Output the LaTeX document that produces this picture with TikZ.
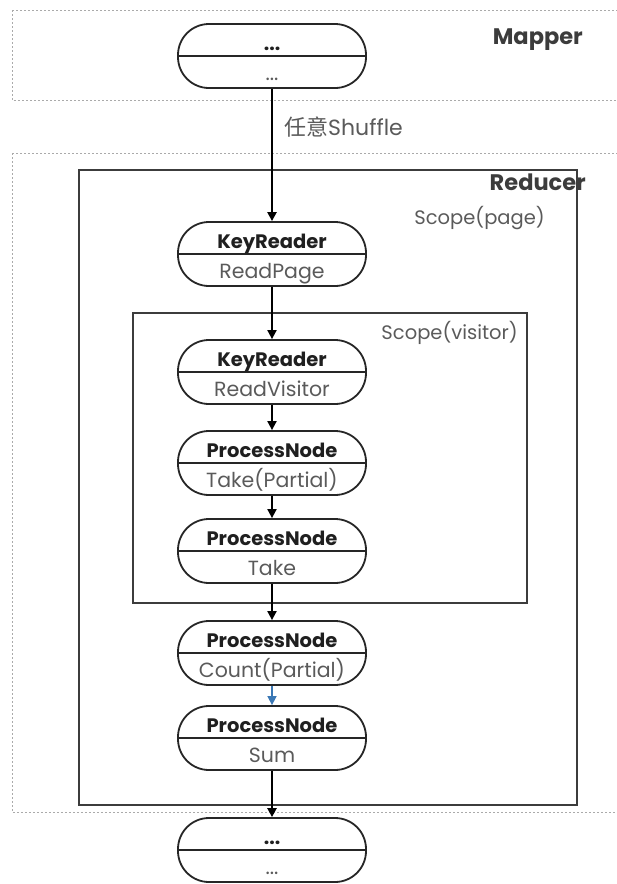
\documentclass[tikz,border=0pt]{standalone}
\usepackage{fontspec}
\setmainfont{Poppins}
\newfontfamily\cjk{Noto Sans CJK SC}
\usetikzlibrary{arrows.meta}

\definecolor{framegray}{HTML}{3C3C3C}
\definecolor{softgray}{HTML}{5A5A5A}
\definecolor{dashgray}{HTML}{AAAAAA}
\definecolor{flowblue}{HTML}{3B78B5}

\tikzset{
  stagebox/.style={draw=black!85, line width=1.8pt, rounded corners=31pt,
    minimum width=188pt, minimum height=64pt, inner sep=0pt},
  headtext/.style={font=\fontsize{19.5}{22}\selectfont\bfseries, text=black!88, inner sep=0pt, anchor=base},
  bodytext/.style={font=\fontsize{20.5}{22}\selectfont, text=softgray, inner sep=0pt, anchor=base},
  flow/.style={draw=black, line width=1.9pt, -{Triangle[length=9pt,width=9pt]}},
  heavyflow/.style={flow, line width=2.5pt},
  zonebox/.style={draw=dashgray, line width=1pt, dash pattern=on 2pt off 2pt},
  scopebox/.style={draw=framegray, line width=1.9pt},
  zonetitle/.style={font=\fontsize{22.5}{24}\selectfont\bfseries, text=framegray, inner sep=0pt},
  scopetitle/.style={font=\fontsize{19.5}{22}\selectfont, text=softgray, inner sep=0pt},
}

% one operator: rounded box split in two, bold kind on top, name below
\newcommand\stagenode[4]{%
  \node[stagebox] (#1) at (272,#2) {};
  \draw[line width=1.8pt, draw=black!85] (#1.west) -- (#1.east);
  \node[headtext] (#1-head) at ([yshift=6pt]#1.center) {#3};
  \node[bodytext] (#1-body) at ([yshift=-24pt]#1.center) {#4};
}

\begin{document}
\begin{tikzpicture}[x=1pt, y=-1pt]
  \useasboundingbox (0,0) rectangle (617,884);
  \clip (0,0) rectangle (617,884);

  % dashed zones
  \draw[zonebox] (12,10) -- (640,10) (12,10) -- (12,100) -- (640,100);
  \draw[zonebox] (12,153) -- (640,153) (12,153) -- (12,812) -- (640,812);
  \node[zonetitle, anchor=east] (mapper-title) at (583,40) {Mapper};

  % scope frames
  \draw[scopebox] (79,170) rectangle (577,805);
  \draw[scopebox, line width=1.6pt] (133,313) rectangle (527,603);
  \node[zonetitle, anchor=east] (reducer-title) at (586,182) {Reducer};
  \node[scopetitle, anchor=east] (page-title) at (545,218) {Scope(page)};
  \node[scopetitle, anchor=east] (visitor-title) at (518,333) {Scope(visitor)};

  % operators
  \stagenode{src}{56}{...}{...}
  \stagenode{readpage}{254}{KeyReader}{ReadPage}
  \stagenode{readvisitor}{372}{KeyReader}{ReadVisitor}
  \stagenode{takepartial}{463}{ProcessNode}{Take(Partial)}
  \stagenode{take}{551}{ProcessNode}{Take}
  \stagenode{countpartial}{653}{ProcessNode}{Count(Partial)}
  \stagenode{sum}{738}{ProcessNode}{Sum}
  \stagenode{sink}{850}{...}{...}

  % data flow
  \draw[heavyflow] (src) -- (readpage);
  \node[scopetitle, anchor=west, font=\fontsize{22}{24}\selectfont] (shuffle-label) at (284,127) {{\cjk 任意}Shuffle};
  \draw[flow] (readpage) -- (readvisitor);
  \draw[flow] (readvisitor) -- (takepartial);
  \draw[flow] (takepartial) -- (take);
  \draw[flow] (take) -- (countpartial);
  \draw[flow, draw=flowblue, line width=1.5pt] (countpartial) -- (sum);
  \draw[heavyflow] (sum) -- (sink);
\end{tikzpicture}
\end{document}
